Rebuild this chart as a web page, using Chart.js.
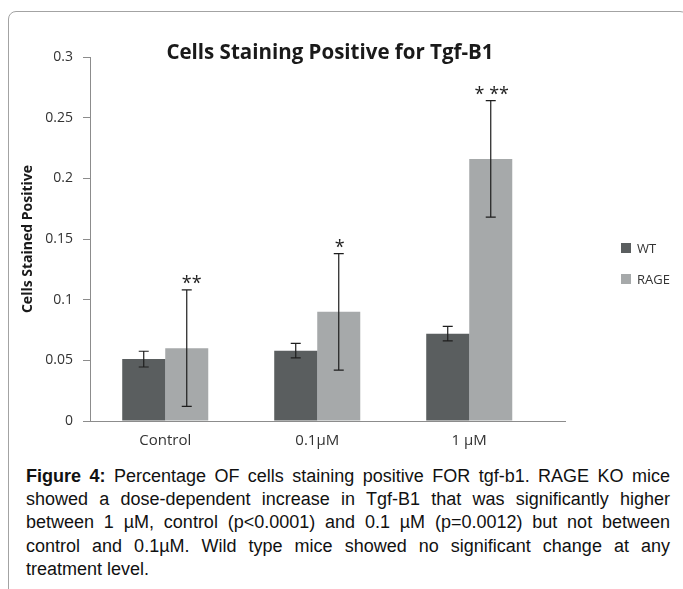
<!DOCTYPE html>
<html>
<head>
<meta charset="utf-8">
<script src="https://cdn.jsdelivr.net/npm/chart.js@4.4.0/dist/chart.umd.min.js"></script>
<style>
  body { margin: 0; width: 683px; height: 589px; overflow: hidden; background: #fff; position: relative; }
  #frame { position: absolute; left: 8px; top: 11px; width: 680px; height: 620px; border: 1px solid #a3a3a3; border-radius: 8px; box-sizing: border-box; }
  #chartCanvas { position: absolute; left: 0; top: 0; }
  #title { position: absolute; left: 90px; width: 480px; top: 38px; line-height: 26px; text-align: center; font-family: "Open Sans", sans-serif; font-weight: bold; font-size: 20.5px; color: #1a1a1a; }
  #legend { position: absolute; left: 621px; top: 232px; font: 13px "Open Sans", sans-serif; color: #333; }
  #legend .item { height: 31px; display: flex; align-items: center; }
  #legend .sw { width: 10px; height: 10px; margin-right: 6px; }
  #caption { position: absolute; left: 26px; width: 644px; top: 465px; font-family: "Liberation Sans", Arial, sans-serif; font-size: 18px; line-height: 23.2px; color: #111; }
  #caption div { text-align: justify; text-align-last: justify; }
  #caption div.last { text-align-last: left; }
</style>
</head>
<body>
<div id="frame"></div>
<canvas id="chartCanvas" width="683" height="461"></canvas>
<div id="title">Cells Staining Positive for Tgf-B1</div>
<div id="legend"></div>
<div id="caption">
  <div><b>Figure 4:</b> Percentage OF cells staining positive FOR tgf-b1. RAGE KO mice</div>
  <div>showed a dose-dependent increase in Tgf-B1 that was significantly higher</div>
  <div>between 1 µM, control (p&lt;0.0001) and 0.1 µM (p=0.0012) but not between</div>
  <div>control and 0.1µM. Wild type mice showed no significant change at any</div>
  <div class="last">treatment level.</div>
</div>
<script>
const categories = ['Control', '0.1µM', '1 µM'];
const seriesNames = ['WT', 'RAGE'];
const wtValues = [0.051, 0.058, 0.072];
const wtErrors = [0.0065, 0.006, 0.006];
const rageValues = [0.060, 0.090, 0.216];
const rageErrors = [0.048, 0.048, 0.048];
const rageMarks = ['**', '*', '* **'];
const yTicks = [0, 0.05, 0.1, 0.15, 0.2, 0.25, 0.3];
const colors = ['#5a5e5f', '#a6a9aa'];

const axisColor = '#8c8c8c';

// error bars + significance stars
const errorBars = {
  id: 'errorBars',
  afterDatasetsDraw(chart) {
    const ctx = chart.ctx;
    const y = chart.scales.y;
    ctx.save();
    ctx.strokeStyle = '#1e1e1e';
    ctx.lineWidth = 1.2;
    chart.data.datasets.forEach((ds, di) => {
      chart.getDatasetMeta(di).data.forEach((bar, i) => {
        const v = ds.data[i].y;
        const e = ds.errors[i];
        const top = y.getPixelForValue(v + e);
        const bot = y.getPixelForValue(v - e);
        ctx.beginPath();
        ctx.moveTo(bar.x, top); ctx.lineTo(bar.x, bot);
        ctx.moveTo(bar.x - 5, top); ctx.lineTo(bar.x + 5, top);
        ctx.moveTo(bar.x - 5, bot); ctx.lineTo(bar.x + 5, bot);
        ctx.stroke();
        if (ds.marks) {
          ctx.fillStyle = '#222';
          ctx.font = '18px "Open Sans"';
          ctx.textAlign = 'center';
          ctx.textBaseline = 'alphabetic';
          ctx.fillText(ds.marks[i], bar.x + (i === 0 ? 5 : 1), top - 1);
        }
      });
    });
    ctx.restore();
  }
};

const chart = new Chart(document.getElementById('chartCanvas'), {
  type: 'bar',
  data: {
    datasets: [{
      label: seriesNames[0],
      data: wtValues.map((v, i) => ({ x: i, y: v })),
      errors: wtErrors,
      backgroundColor: colors[0]
    }, {
      label: seriesNames[1],
      data: rageValues.map((v, i) => ({ x: i, y: v })),
      errors: rageErrors,
      marks: rageMarks,
      backgroundColor: colors[1]
    }]
  },
  options: {
    responsive: false,
    animation: false,
    categoryPercentage: 0.566,
    barPercentage: 1,
    layout: { padding: { left: 16, top: 57, right: 118, bottom: 0 } },
    plugins: { legend: { display: false }, tooltip: { enabled: false } },
    scales: {
      x: {
        type: 'linear',
        offset: false,
        min: -0.495,
        max: 2.63,
        afterBuildTicks: s => { s.ticks = categories.map((_, i) => ({ value: i })); },
        afterFit: s => { s.height = 40; },
        grid: { display: false, drawTicks: false },
        border: { color: axisColor },
        ticks: {
          autoSkip: false,
          maxRotation: 0,
          padding: 11,
          color: '#333',
          font: { family: 'Open Sans', size: 15 },
          callback: v => categories[v]
        }
      },
      y: {
        min: 0,
        max: 0.3,
        afterBuildTicks: s => { s.ticks = yTicks.map(v => ({ value: v })); },
        afterFit: s => { s.width = 74; },
        grid: { drawOnChartArea: false, drawTicks: true, tickLength: 7, color: axisColor },
        border: { color: axisColor },
        ticks: {
          padding: 10,
          color: '#333',
          font: { family: 'Open Sans', size: 14 },
          callback: v => String(+v.toFixed(2))
        },
        title: {
          display: true,
          text: 'Cells Stained Positive',
          color: '#1a1a1a',
          font: { family: 'Open Sans', size: 14, weight: 'bold' },
          padding: { top: 4, bottom: 4 }
        }
      }
    }
  },
  plugins: [errorBars]
});

// legend
const legend = document.getElementById('legend');
chart.data.datasets.forEach(ds => {
  const item = document.createElement('div');
  item.className = 'item';
  item.innerHTML = '<span class="sw" style="background:' + ds.backgroundColor + '"></span>' + ds.label;
  legend.appendChild(item);
});
</script>
</body>
</html>
